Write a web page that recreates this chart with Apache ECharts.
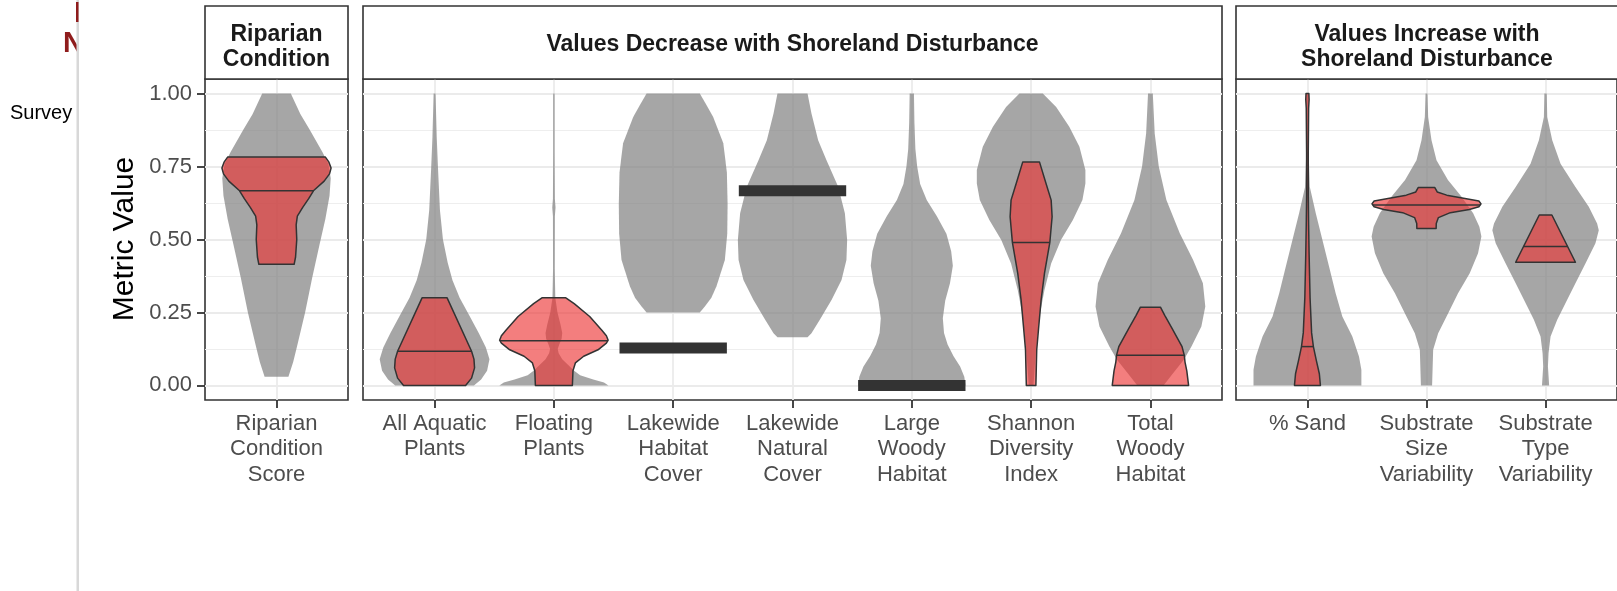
<!DOCTYPE html>
<html>
<head>
<meta charset="utf-8">
<script src="https://cdn.jsdelivr.net/npm/echarts@6/dist/echarts.min.js"></script>
<style>
  html, body { margin: 0; padding: 0; background: #ffffff; }
  #chart { width: 1617px; height: 591px; }
</style>
</head>
<body>
<div id="chart"></div>
<script>
// ---- Facet titles and category labels ----
const panelTitles = ['Riparian\nCondition', 'Values Decrease with Shoreland Disturbance', 'Values Increase with\nShoreland Disturbance'];
const riparianCategories = ['Riparian\nCondition\nScore'];
const decreaseCategories = ['All Aquatic\nPlants', 'Floating\nPlants', 'Lakewide\nHabitat\nCover', 'Lakewide\nNatural\nCover', 'Large\nWoody\nHabitat', 'Shannon\nDiversity\nIndex', 'Total\nWoody\nHabitat'];
const increaseCategories = ['% Sand', 'Substrate\nSize\nVariability', 'Substrate\nType\nVariability'];
const yTicks = [0, 0.25, 0.5, 0.75, 1];
const yTickLabels = ['0.00', '0.25', '0.50', '0.75', '1.00'];
const yMinorTicks = [0.125, 0.375, 0.625, 0.875];

// ---- Violin outlines: [metric value, half width in category units] ----
// All sites (grey)
const grayRiparian = [[0.03,0.10],[0.08,0.14],[0.13,0.17],[0.25,0.24],[0.37,0.30],[0.48,0.36],[0.57,0.41],[0.65,0.445],[0.71,0.455],[0.76,0.435],[0.80,0.385],[0.875,0.28],[0.93,0.20],[1.0,0.12]];
const grayAquatic = [[0,0.33],[0.02,0.39],[0.05,0.44],[0.09,0.46],[0.13,0.43],[0.18,0.37],[0.24,0.29],[0.30,0.21],[0.36,0.15],[0.42,0.11],[0.50,0.07],[0.60,0.045],[0.75,0.028],[0.85,0.018],[1.0,0.008]];
const grayFloating = [[0,0.457],[0.01,0.42],[0.02,0.33],[0.035,0.22],[0.05,0.17],[0.07,0.12],[0.09,0.07],[0.11,0.04],[0.125,0.032],[0.14,0.045],[0.16,0.065],[0.18,0.07],[0.21,0.055],[0.25,0.03],[0.30,0.012],[0.40,0.007],[0.58,0.008],[0.61,0.014],[0.64,0.008],[0.8,0.006],[1.0,0.006]];
const grayHabitatCover = [[0.25,0.223],[0.27,0.265],[0.30,0.32],[0.34,0.363],[0.43,0.433],[0.52,0.453],[0.62,0.456],[0.73,0.45],[0.83,0.42],[0.92,0.335],[0.96,0.28],[1.0,0.223]];
const grayNaturalCover = [[0.165,0.126],[0.179,0.159],[0.225,0.229],[0.293,0.327],[0.361,0.411],[0.43,0.452],[0.498,0.458],[0.59,0.439],[0.681,0.383],[0.772,0.285],[0.84,0.215],[0.932,0.159],[1.0,0.126]];
const grayLargeWoody = [[0,0.45],[0.03,0.44],[0.065,0.405],[0.10,0.35],[0.14,0.30],[0.18,0.27],[0.23,0.26],[0.29,0.28],[0.35,0.32],[0.41,0.344],[0.46,0.33],[0.52,0.29],[0.58,0.21],[0.635,0.125],[0.69,0.07],[0.75,0.045],[0.81,0.03],[0.9,0.022],[1.0,0.018]];
const grayShannon = [[0,0.02],[0.122,0.04],[0.236,0.07],[0.327,0.112],[0.418,0.168],[0.498,0.25],[0.567,0.35],[0.635,0.43],[0.692,0.455],[0.738,0.455],[0.818,0.405],[0.886,0.32],[0.954,0.21],[1.0,0.098]];
const grayTotalWoody = [[0,0.11],[0.042,0.19],[0.088,0.28],[0.133,0.344],[0.202,0.427],[0.27,0.46],[0.35,0.44],[0.43,0.358],[0.521,0.246],[0.635,0.134],[0.75,0.07],[0.863,0.036],[1.0,0.02]];
const graySand = [[0,0.453],[0.054,0.453],[0.099,0.433],[0.168,0.377],[0.236,0.293],[0.316,0.237],[0.407,0.182],[0.498,0.126],[0.59,0.07],[0.68,0.02],[0.8,0.01],[1.0,0.008]];
const graySizeVar = [[0,0.047],[0.122,0.056],[0.179,0.098],[0.247,0.182],[0.316,0.265],[0.384,0.363],[0.453,0.433],[0.51,0.461],[0.544,0.444],[0.59,0.392],[0.647,0.293],[0.704,0.18],[0.772,0.084],[0.84,0.042],[0.92,0.014],[1.0,0.008]];
const grayTypeVar = [[0,0.03],[0.065,0.02],[0.11,0.025],[0.168,0.042],[0.225,0.098],[0.282,0.168],[0.35,0.251],[0.418,0.335],[0.487,0.419],[0.532,0.447],[0.555,0.433],[0.612,0.363],[0.68,0.251],[0.76,0.126],[0.84,0.056],[0.92,0.014],[1.0,0.01]];

// Least-disturbed sites (red)
const redRiparian = [[0.415,0.148],[0.44,0.16],[0.50,0.17],[0.55,0.165],[0.58,0.175],[0.61,0.22],[0.64,0.27],[0.667,0.31],[0.70,0.40],[0.725,0.445],[0.745,0.458],[0.765,0.44],[0.783,0.409]];
const redAquatic = [[0,0.26],[0.025,0.31],[0.06,0.335],[0.09,0.33],[0.117,0.31],[0.30,0.105]];
const redFloating = [[0,0.155],[0.05,0.16],[0.077,0.18],[0.10,0.25],[0.122,0.37],[0.145,0.44],[0.155,0.455],[0.17,0.44],[0.19,0.40],[0.236,0.30],[0.28,0.17],[0.30,0.10]];
const redShannon = [[0,0.04],[0.122,0.047],[0.202,0.064],[0.293,0.084],[0.384,0.112],[0.49,0.157],[0.578,0.176],[0.635,0.168],[0.692,0.125],[0.766,0.07]];
const redTotalWoody = [[0,0.32],[0.05,0.305],[0.08,0.29],[0.103,0.284],[0.133,0.265],[0.196,0.18],[0.24,0.12],[0.268,0.084]];
const redSand = [[0,0.109],[0.04,0.10],[0.085,0.075],[0.133,0.05],[0.18,0.035],[0.3,0.022],[0.45,0.014],[0.55,0.01],[0.65,0.007],[0.8,0.007],[0.95,0.01],[0.98,0.014],[1.0,0.012]];
const redSizeVar = [[0.538,0.081],[0.555,0.082],[0.575,0.10],[0.592,0.20],[0.603,0.36],[0.612,0.44],[0.622,0.458],[0.632,0.44],[0.642,0.30],[0.652,0.17],[0.663,0.09],[0.678,0.07]];
const redTypeVar = [[0.422,0.251],[0.584,0.053]];

// Medians of the least-disturbed sites
const redMedians = { riparian: 0.667, aquatic: 0.117, floating: 0.153, shannon: 0.49, totalWoody: 0.103, sand: 0.133, sizeVar: 0.618, typeVar: 0.476 };
// Metrics where all least-disturbed sites share one value
const flatHabitatCover = 0.128;
const flatNaturalCover = 0.667;
const flatLargeWoody = 0.0;

// ---- Assemble per-panel violin lists ----
const panels = [
  { cats: riparianCategories, left: 205, width: 143, violins: [
    { gray: grayRiparian, red: redRiparian, median: redMedians.riparian }
  ]},
  { cats: decreaseCategories, left: 363, width: 859, violins: [
    { gray: grayAquatic, red: redAquatic, median: redMedians.aquatic },
    { gray: grayFloating, red: redFloating, median: redMedians.floating },
    { gray: grayHabitatCover, flat: flatHabitatCover },
    { gray: grayNaturalCover, flat: flatNaturalCover },
    { gray: grayLargeWoody, flat: flatLargeWoody },
    { gray: grayShannon, red: redShannon, median: redMedians.shannon },
    { gray: grayTotalWoody, red: redTotalWoody, median: redMedians.totalWoody }
  ]},
  { cats: increaseCategories, left: 1236, width: 382, violins: [
    { gray: graySand, red: redSand, median: redMedians.sand },
    { gray: graySizeVar, red: redSizeVar, median: redMedians.sizeVar },
    { gray: grayTypeVar, red: redTypeVar, median: redMedians.typeVar }
  ]}
];

const GRID_TOP = 79, GRID_H = 321;
const FONT = '"Liberation Sans", Arial, sans-serif';
const GRAY_FILL = 'rgba(128,128,128,0.7)';
const RED_FILL = 'rgba(236,50,50,0.63)';
const OUTLINE = '#333333';

function outline(profile, xc, api) {
  const right = profile.map(p => api.coord([xc + p[1], p[0]]));
  const left = profile.slice().reverse().map(p => api.coord([xc - p[1], p[0]]));
  return right.concat(left);
}
function halfWidthAt(profile, v) {
  for (let i = 0; i < profile.length - 1; i++) {
    const a = profile[i], b = profile[i + 1];
    if (v >= a[0] && v <= b[0]) {
      const t = (v - a[0]) / (b[0] - a[0] || 1);
      return a[1] + t * (b[1] - a[1]);
    }
  }
  return 0;
}

const grids = [], xAxes = [], yAxes = [], series = [], graphics = [];

panels.forEach((pn, gi) => {
  const n = pn.cats.length;
  grids.push({ left: pn.left, top: GRID_TOP, width: pn.width, height: GRID_H, show: true,
    borderColor: OUTLINE, borderWidth: 1.6, backgroundColor: '#ffffff' });
  const idx = pn.cats.map((c, i) => i);
  xAxes.push({
    type: 'value', gridIndex: gi, min: -0.6, max: n - 0.4, position: 'bottom',
    axisLine: { show: false, onZero: false },
    axisTick: { show: true, length: 8, customValues: idx, lineStyle: { color: OUTLINE, width: 1.8 } },
    axisLabel: { show: true, customValues: idx, margin: 11, color: '#4d4d4d', fontSize: 22,
      lineHeight: 25.5, fontFamily: FONT, formatter: v => pn.cats[Math.round(v)] },
    splitLine: { show: true, lineStyle: { color: '#ebebeb', width: 1.8 } }
  });
  yAxes.push({
    type: 'value', gridIndex: gi, min: -0.05, max: 1.05, position: 'left',
    axisLine: { show: false, onZero: false },
    axisTick: { show: gi === 0, length: 8, customValues: yTicks, lineStyle: { color: OUTLINE, width: 1.8 } },
    axisLabel: { show: gi === 0, customValues: yTicks, margin: 13, color: '#4d4d4d', fontSize: 22,
      fontFamily: FONT, formatter: v => yTickLabels[yTicks.indexOf(Math.round(v * 100) / 100)] },
    splitLine: { show: true, lineStyle: { color: '#ebebeb', width: 1.8 } }
  });
  yAxes.push({
    type: 'value', gridIndex: gi, min: -0.05, max: 1.05, position: 'left',
    axisLine: { show: false, onZero: false },
    axisTick: { show: false, customValues: yMinorTicks },
    axisLabel: { show: false, customValues: yMinorTicks },
    splitLine: { show: true, lineStyle: { color: '#eeeeee', width: 1.1 } }
  });

  const yIdx = gi * 2;
  // grey violins: every site
  series.push({
    type: 'custom', xAxisIndex: gi, yAxisIndex: yIdx, silent: true, z: 2,
    data: pn.violins.map((v, i) => [i, 0.5]),
    encode: { x: 0, y: 1 },
    renderItem: (params, api) => {
      const v = pn.violins[params.dataIndex];
      return { type: 'polygon', shape: { points: outline(v.gray, params.dataIndex, api) },
        style: { fill: GRAY_FILL, stroke: null } };
    }
  });
  // red violins with median line, or a flat bar where the values coincide
  series.push({
    type: 'custom', xAxisIndex: gi, yAxisIndex: yIdx, silent: true, z: 3,
    data: pn.violins.map((v, i) => [i, v.red ? v.median : v.flat]),
    encode: { x: 0, y: 1 },
    renderItem: (params, api) => {
      const i = params.dataIndex;
      const v = pn.violins[i];
      if (v.red) {
        const hw = halfWidthAt(v.red, v.median);
        const a = api.coord([i - hw, v.median]), b = api.coord([i + hw, v.median]);
        return { type: 'group', children: [
          { type: 'polygon', shape: { points: outline(v.red, i, api) },
            style: { fill: RED_FILL, stroke: OUTLINE, lineWidth: 1.5, lineJoin: 'round' } },
          { type: 'line', shape: { x1: a[0], y1: a[1], x2: b[0], y2: b[1] },
            style: { stroke: OUTLINE, lineWidth: 1.5 } }
        ]};
      }
      const a = api.coord([i - 0.45, v.flat]), b = api.coord([i + 0.45, v.flat]);
      return { type: 'rect', shape: { x: a[0], y: a[1] - 5.5, width: b[0] - a[0], height: 11 },
        style: { fill: OUTLINE } };
    }
  });

  // facet strip
  const twoLines = panelTitles[gi].indexOf('\n') >= 0;
  graphics.push({ type: 'rect', z: 10, shape: { x: pn.left, y: 6, width: pn.width, height: GRID_TOP - 6 },
    style: { fill: '#ffffff', stroke: OUTLINE, lineWidth: 1.6 } });
  graphics.push({ type: 'text', z: 11, x: pn.left + pn.width / 2, y: twoLines ? 47 : 45,
    style: { text: panelTitles[gi], fill: '#1a1a1a', font: 'bold 23px ' + FONT, lineHeight: 25,
      textAlign: 'center', textVerticalAlign: 'middle' } });
});

// y axis title
graphics.push({ type: 'text', z: 11, x: 125, y: 239, rotation: Math.PI / 2,
  style: { text: 'Metric Value', fill: '#000000', font: '30px ' + FONT, textAlign: 'center', textVerticalAlign: 'middle' } });

// page furniture on the left edge
graphics.push({ type: 'text', z: 11, x: 10, y: 113,
  style: { text: 'Survey', fill: '#000000', font: '20px ' + FONT, textAlign: 'left', textVerticalAlign: 'middle' } });
graphics.push({ type: 'text', z: 11, x: 63, y: 44,
  style: { text: 'N', fill: '#8f1c1c', font: 'bold 29px ' + FONT, textAlign: 'left', textVerticalAlign: 'middle' } });
graphics.push({ type: 'rect', z: 12, shape: { x: 78, y: 0, width: 22, height: 591 }, style: { fill: '#ffffff' } });
graphics.push({ type: 'rect', z: 13, shape: { x: 76.5, y: 0, width: 2.5, height: 591 }, style: { fill: '#d8d8d8' } });
graphics.push({ type: 'rect', z: 14, shape: { x: 76, y: 2, width: 2.5, height: 20 }, style: { fill: '#8f1c1c' } });

const chart = echarts.init(document.getElementById('chart'), null, { renderer: 'canvas' });
chart.setOption({
  animation: false,
  backgroundColor: '#ffffff',
  grid: grids,
  xAxis: xAxes,
  yAxis: yAxes,
  series: series,
  graphic: graphics
});
</script>
</body>
</html>
